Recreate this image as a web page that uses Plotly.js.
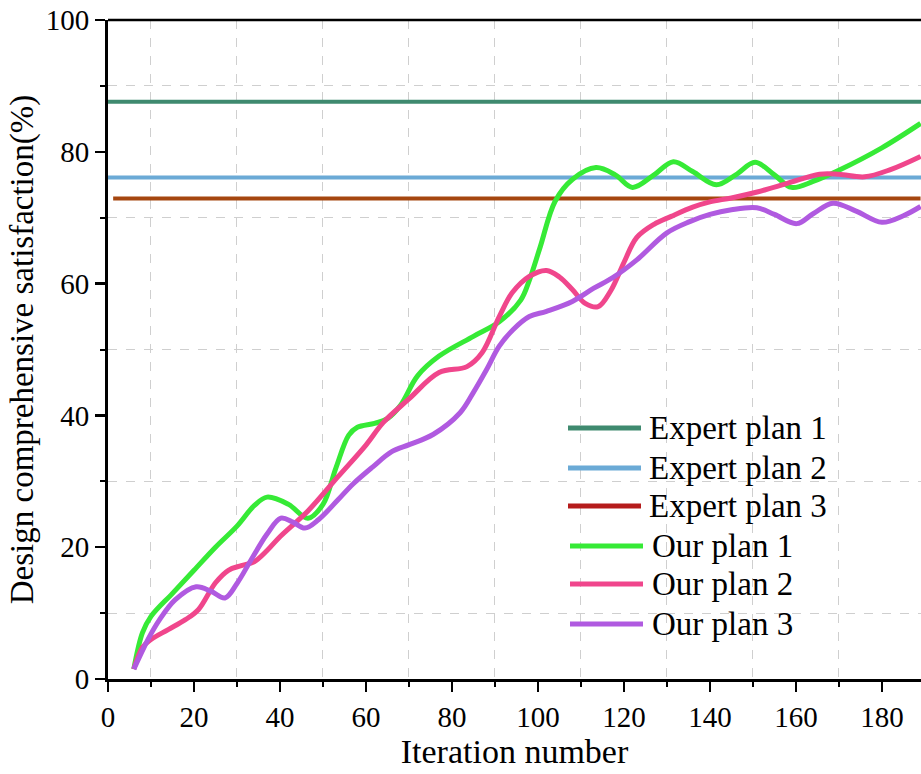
<!DOCTYPE html>
<html>
<head>
<meta charset="utf-8">
<script src="https://cdn.plot.ly/plotly-3.0.1.min.js"></script>
<style>html,body{margin:0;padding:0;background:#fff;}#chart{width:921px;height:774px;}</style>
</head>
<body>
<div id="chart"></div>
<script>
// ---- data ----
const seriesNames = ['Expert plan 1', 'Expert plan 2', 'Expert plan 3', 'Our plan 1', 'Our plan 2', 'Our plan 3'];

const expert1X = [0, 190];
const expert1Y = [87.6, 87.6];
const expert2X = [0, 190];
const expert2Y = [76.1, 76.1];
const expert3X = [1.2, 189];
const expert3Y = [72.9, 72.9];

const our1X = [6, 8, 10, 15, 20, 25, 30, 34, 37, 42, 46.5, 50, 53, 56, 58, 62, 65, 68, 72, 77, 85, 91, 96, 98, 100.5, 104, 108, 113.5, 118, 122, 127, 131.5, 136, 141.5, 146, 150.5, 155, 159, 164, 170, 180, 189];
const our1Y = [1.5, 7.0, 9.5, 13.0, 16.5, 20.0, 23.2, 26.3, 27.6, 26.5, 24.4, 26.5, 32.0, 37.0, 38.2, 38.8, 39.5, 41.5, 46.0, 49.0, 52.0, 54.2, 57.5, 60.5, 65.5, 72.5, 75.8, 77.6, 76.5, 74.6, 76.5, 78.5, 77.0, 75.0, 76.5, 78.4, 76.5, 74.6, 75.5, 77.2, 80.6, 84.3];

const our2X = [6, 8, 10, 14, 18, 21, 25, 28, 31, 34, 37, 40, 46.5, 53.5, 60, 64, 70, 77, 83.5, 87, 91, 94, 98, 102, 105, 108, 111, 114, 117, 120, 123, 127, 131, 136, 140, 145, 151, 158, 165.5, 170, 176, 182, 189];
const our2Y = [1.5, 4.8, 6.0, 7.5, 9.0, 10.5, 14.6, 16.5, 17.2, 17.8, 19.5, 21.6, 25.5, 30.7, 35.5, 38.9, 42.5, 46.5, 47.4, 49.5, 55.0, 58.6, 61.1, 62.0, 61.0, 59.1, 57.0, 56.5, 59.0, 63.2, 67.0, 69.0, 70.2, 71.6, 72.4, 73.0, 73.9, 75.2, 76.6, 76.6, 76.2, 77.3, 79.3];

const our3X = [6, 9.3, 12, 15.6, 20.5, 24, 27.2, 30, 33.3, 37, 40.2, 43, 45.8, 49, 53.5, 57, 61.6, 66, 70.2, 75.6, 81.9, 85, 88.1, 91, 94.2, 98, 102, 108, 113, 117.4, 123, 130, 135.3, 140, 145, 150.9, 155, 160.2, 164, 168.6, 174, 180, 185, 189];
const our3Y = [1.5, 6.0, 9.0, 12.0, 14.0, 13.3, 12.3, 14.5, 18.1, 22.0, 24.4, 23.8, 22.9, 24.2, 27.2, 29.6, 32.2, 34.5, 35.6, 37.1, 40.4, 43.5, 47.0, 50.5, 53.0, 55.0, 55.8, 57.3, 59.3, 60.9, 63.6, 67.7, 69.4, 70.5, 71.2, 71.5, 70.5, 69.1, 70.6, 72.2, 71.0, 69.3, 70.3, 71.7];

const xTicks = [0, 20, 40, 60, 80, 100, 120, 140, 160, 180];
const yTicks = [0, 20, 40, 60, 80, 100];

// ---- styles ----
const lineColors = ['#3f8a6f', '#6baad6', '#a5460f', '#36ea36', '#f0468c', '#b05ae0'];
const legendColors = ['#3f8a6f', '#6baad6', '#b51c1c', '#36ea36', '#f0468c', '#b05ae0'];
const FONT = 'Liberation Serif, Times New Roman, serif';

const xs = [expert1X, expert2X, expert3X, our1X, our2X, our3X];
const ys = [expert1Y, expert2Y, expert3Y, our1Y, our2Y, our3Y];

const traces = xs.map((x, i) => ({
  x: x, y: ys[i], type: 'scatter', mode: 'lines', name: seriesNames[i],
  showlegend: false,
  line: {color: lineColors[i], width: i < 3 ? 4 : 5, shape: i < 3 ? 'linear' : 'spline', smoothing: 1}
}));

// plot area geometry in pixels (for custom legend placement)
const L = 108, T = 20, W = 813, H = 659;
const px2x = p => (p - L) / W;
const px2y = p => 1 - (p - T) / H;

const legendRowsY = [428, 468, 506, 546, 584, 624];
const shapes = [
  {type: 'line', xref: 'paper', yref: 'paper', x0: 0, x1: 1, y0: 1, y1: 1, line: {color: '#000', width: 2.5}}
];
const annotations = [];
seriesNames.forEach((n, i) => {
  const isOur = i >= 3;
  const x0 = isOur ? 570 : 568, x1 = isOur ? 643 : 641;
  shapes.push({type: 'line', xref: 'paper', yref: 'paper', x0: px2x(x0), x1: px2x(x1),
    y0: px2y(legendRowsY[i]), y1: px2y(legendRowsY[i]), line: {color: legendColors[i], width: 5}});
  annotations.push({xref: 'paper', yref: 'paper', x: px2x(isOur ? 650 : 647), y: px2y(legendRowsY[i]),
    xanchor: 'left', yanchor: 'middle', showarrow: false, text: n,
    font: {family: FONT, size: 33, color: '#000'}});
});

const layout = {
  width: 921, height: 774,
  margin: {l: L, r: 0, t: T, b: 774 - T - H},
  paper_bgcolor: '#fff', plot_bgcolor: '#fff',
  font: {family: FONT, color: '#000'},
  showlegend: false,
  xaxis: {
    range: [0, 189.1], tickvals: xTicks, ticktext: xTicks.map(String),
    ticks: 'outside', ticklen: 10, tickwidth: 2.5, tickcolor: '#000',
    showline: true, linecolor: '#000', linewidth: 3, zeroline: false, showgrid: false,
    tickfont: {family: FONT, size: 29, color: '#000'},
    minor: {tickvals: [10, 30, 50, 70, 90, 110, 130, 150, 170], ticks: 'outside', ticklen: 5, tickwidth: 2, tickcolor: '#000',
      showgrid: true, gridcolor: '#cfcfcf', griddash: 'dash', gridwidth: 1},
    title: {text: 'Iteration number', font: {family: FONT, size: 34, color: '#000'}, standoff: 4},
    automargin: false
  },
  yaxis: {
    range: [0, 100], tickvals: yTicks, ticktext: yTicks.map(String),
    ticks: 'outside', ticklen: 10, tickwidth: 2.5, tickcolor: '#000',
    showline: true, linecolor: '#000', linewidth: 3, zeroline: false, showgrid: false,
    tickfont: {family: FONT, size: 29, color: '#000'},
    minor: {tickvals: [10, 30, 50, 70, 90], ticks: 'outside', ticklen: 5, tickwidth: 2, tickcolor: '#000',
      showgrid: true, gridcolor: '#cfcfcf', griddash: 'dash', gridwidth: 1},
    title: {text: 'Design comprehensive satisfaction(%)', font: {family: FONT, size: 33, color: '#000'}, standoff: 3},
    automargin: false
  },
  shapes: shapes,
  annotations: annotations
};

Plotly.newPlot('chart', traces, layout, {displayModeBar: false, staticPlot: true});
</script>
</body>
</html>
